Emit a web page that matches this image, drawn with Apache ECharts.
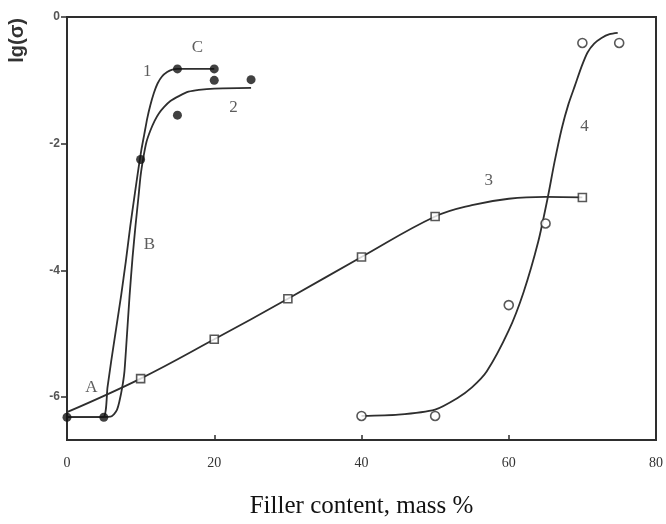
<!DOCTYPE html>
<html>
<head>
<meta charset="utf-8">
<script src="https://cdn.jsdelivr.net/npm/echarts@6/dist/echarts.min.js"></script>
<style>html,body{margin:0;padding:0;background:#fff}#c{width:666px;height:524px}</style>
</head>
<body>
<div id="c"></div>
<script>
// ---- data ----
const xTicks = [0, 20, 40, 60, 80];
const yTicks = [0, -2, -4, -6];
// measured points
const dots1 = [[0, -6.32], [5, -6.32], [10, -2.25], [15, -0.82], [20, -0.82], [20, -1.0], [15, -1.55], [25, -0.99]];
const squares3 = [[10, -5.71], [20, -5.09], [30, -4.45], [40, -3.79], [50, -3.15], [70, -2.85]];
const circles4 = [[40, -6.3], [50, -6.3], [60, -4.55], [65, -3.26], [70, -0.41], [75, -0.41]];
// fitted curves
const curve1 = [[0, -6.32], [4.9, -6.32], [5.5, -5.85], [6.0, -5.44], [6.7, -4.9], [7.35, -4.4], [8.0, -3.85], [8.6, -3.3], [9.2, -2.8], [9.7, -2.4], [10.1, -2.1], [10.5, -1.85], [10.9, -1.6], [11.3, -1.4], [11.8, -1.2], [12.3, -1.05], [12.9, -0.94], [13.6, -0.87], [14.3, -0.83], [15, -0.82], [20, -0.82]];
const curve2 = [[0, -6.32], [5.9, -6.31], [6.4, -6.27], [6.8, -6.2], [7.1, -6.08], [7.5, -5.85], [7.8, -5.6], [8.1, -5.1], [8.5, -4.4], [8.9, -3.8], [9.3, -3.3], [9.7, -2.85], [10.0, -2.5], [10.4, -2.2], [10.8, -1.97], [11.3, -1.8], [11.9, -1.64], [12.5, -1.52], [13.2, -1.42], [14.0, -1.33], [15.2, -1.25], [16.5, -1.18], [17.9, -1.15], [20, -1.13], [25, -1.12]];
const curve3 = [[0, -6.24], [10, -5.71], [20, -5.09], [30, -4.45], [40, -3.79], [50, -3.15], [55, -2.97], [60, -2.87], [65, -2.84], [70, -2.85]];
const curve4 = [[40, -6.3], [45, -6.28], [50, -6.2], [53, -6.02], [55, -5.85], [57, -5.6], [60, -4.95], [62, -4.35], [64, -3.55], [65.3, -2.85], [66.2, -2.3], [67.2, -1.76], [68.1, -1.38], [69, -1.08], [69.9, -0.78], [70.7, -0.56], [71.6, -0.42], [72.6, -0.33], [73.7, -0.27], [74.8, -0.25]];
// annotation labels
const annotations = [
  { text: '1', x: 10.9, y: -0.86 },
  { text: 'C', x: 17.7, y: -0.48 },
  { text: '2', x: 22.6, y: -1.43 },
  { text: 'B', x: 11.2, y: -3.6 },
  { text: 'A', x: 3.3, y: -5.85 },
  { text: '3', x: 57.3, y: -2.58 },
  { text: '4', x: 70.3, y: -1.73 }
];
const xName = 'Filler content, mass %';
const yName = 'lg(σ)';

const ink = '#2e2e2e';
const lineStyle = { color: ink, width: 1.8 };
function curve(data, s) {
  return { type: 'line', data: data, smooth: s, symbol: 'none', lineStyle: lineStyle, z: 2, silent: true };
}

const chart = echarts.init(document.getElementById('c'), null, { renderer: 'canvas' });
chart.setOption({
  animation: false,
  backgroundColor: '#fff',
  grid: { left: 67, right: 4, top: 17, bottom: 77, show: true, borderColor: ink, borderWidth: 2, containLabel: false },
  xAxis: {
    type: 'value', min: 0, max: 80, interval: 20,
    name: xName, nameLocation: 'middle', nameGap: 54,
    nameTextStyle: { fontFamily: 'Liberation Serif', fontSize: 25, color: '#111' },
    axisLine: { show: true, onZero: false, lineStyle: { color: ink, width: 2 } },
    axisTick: { show: true, inside: true, length: 5, lineStyle: { color: ink, width: 1.5 }, customValues: xTicks },
    axisLabel: { fontFamily: 'Liberation Serif', fontSize: 14, color: '#333', margin: 16, customValues: xTicks },
    splitLine: { show: false }
  },
  yAxis: {
    type: 'value', min: -6.68, max: 0,
    axisLine: { show: true, onZero: false, lineStyle: { color: ink, width: 2 } },
    axisTick: { show: true, inside: false, length: 6, lineStyle: { color: ink, width: 1.5 }, customValues: yTicks },
    axisLabel: { fontFamily: 'Liberation Sans', fontSize: 12, fontWeight: 'bold', color: '#555', margin: 7, customValues: yTicks },
    splitLine: { show: false }
  },
  graphic: [{
    type: 'text', left: 7, top: 18, rotation: Math.PI / 2,
    style: { text: yName, font: 'bold 20px "Liberation Sans"', fill: '#333' }
  }],
  series: [
    curve(curve1, 0.2), curve(curve2, 0.2), curve(curve3, 0.4), curve(curve4, 0.25),
    { type: 'scatter', data: dots1, symbol: 'circle', symbolSize: 9, itemStyle: { color: '#111' }, z: 3 },
    { type: 'scatter', data: squares3, symbol: 'rect', symbolSize: 8, itemStyle: { color: '#fff', borderColor: ink, borderWidth: 1.6 }, z: 3 },
    { type: 'scatter', data: circles4, symbol: 'circle', symbolSize: 9, itemStyle: { color: '#fff', borderColor: ink, borderWidth: 1.6 }, z: 3 },
    {
      type: 'scatter', symbolSize: 0, z: 4, silent: true,
      data: annotations.map(a => ({ value: [a.x, a.y], name: a.text })),
      label: { show: true, position: 'inside', formatter: p => p.name, fontFamily: 'Liberation Serif', fontSize: 17, color: '#333' }
    }
  ]
});
</script>
</body>
</html>
